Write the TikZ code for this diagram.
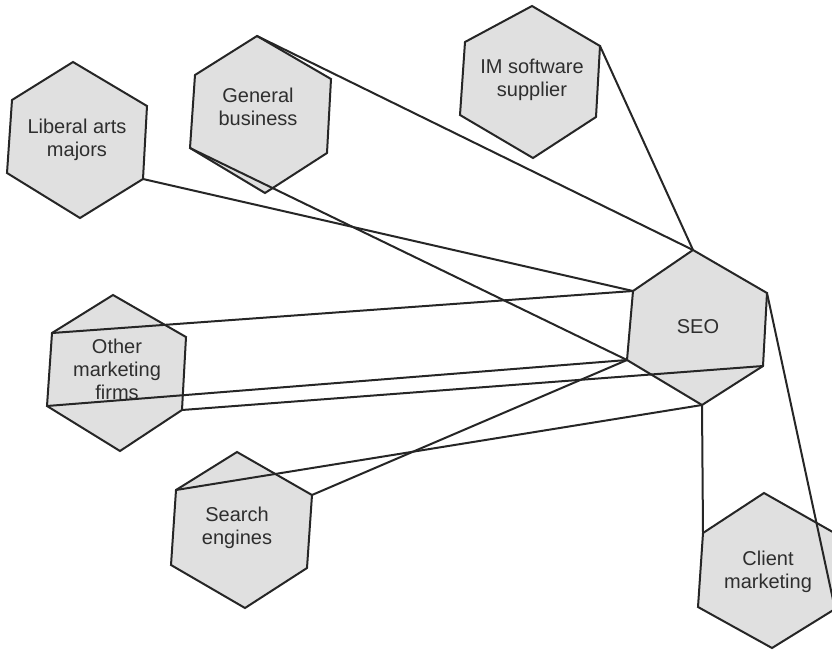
\documentclass[tikz,border=0pt]{standalone}
\usepackage{fontspec}
\setmainfont{Liberation Sans}
\begin{document}
\begin{tikzpicture}[x=1pt,y=-1pt,
  hexbox/.style={draw=black!85,line width=2pt,fill=hexfill,line join=miter},
  hexlabel/.style={align=center,inner sep=0pt,text=black!82,
    font=\fontsize{20}{23}\selectfont},
  link/.style={draw=black!85,line width=2pt,line cap=round}]
\definecolor{hexfill}{RGB}{224,224,224}
\useasboundingbox (0,0) rectangle (832,651);

% hexagon: name, centre of label, six corners (top, upper right, lower right, bottom, lower left, upper left), label
\newcommand\hexnode[9]{%
  \coordinate (#1-t) at #3; \coordinate (#1-ur) at #4; \coordinate (#1-lr) at #5;
  \coordinate (#1-b) at #6; \coordinate (#1-ll) at #7; \coordinate (#1-ul) at #8;
  \path[hexbox] (#1-t) -- (#1-ur) -- (#1-lr) -- (#1-b) -- (#1-ll) -- (#1-ul) -- cycle;
  \node[hexlabel] (#1) at #2 {#9};}

\hexnode{lib}{(77,140)}{(73,62)}{(147,106)}{(143,179)}{(80,218)}{(7,173)}{(12,100)}{Liberal arts\\majors}
\hexnode{gen}{(258,107)}{(257,36)}{(331,79)}{(327,153)}{(265,193)}{(190,148)}{(195,75)}{General\\business}
\hexnode{im}{(532,80)}{(532,6)}{(600,46)}{(596,117)}{(533,158)}{(460,115)}{(465,42)}{IM software\\supplier}
\hexnode{oth}{(117,369)}{(113,295)}{(186,337)}{(182,410)}{(120,451)}{(47,406)}{(52,333)}{Other\\marketing\\firms}
\hexnode{seo}{(698,327)}{(693,250)}{(767,293)}{(763,366)}{(702,405)}{(627,360)}{(633,291)}{SEO}
\hexnode{srch}{(237,528)}{(237,452)}{(312,495)}{(307,568)}{(245,608)}{(171,565)}{(176,490)}{Search\\engines}
\hexnode{cli}{(768,572)}{(764,493)}{(838,535)}{(835,609)}{(772,648)}{(698,607)}{(703,533)}{Client\\marketing}

% connectors between hexagon corners
\draw[link] (gen-t) -- (seo-t);
\draw[link] (im-ur) -- (seo-t);
\draw[link] (lib-lr) -- (seo-ul);
\draw[link] (gen-ll) -- (seo-ll);
\draw[link] (oth-ul) -- (seo-ul);
\draw[link] (oth-ll) -- (seo-ll);
\draw[link] (oth-lr) -- (seo-lr);
\draw[link] (srch-ur) -- (seo-ll);
\draw[link] (srch-ul) -- (seo-b);
\draw[link] (seo-b) -- (cli-ul);
\draw[link] (seo-ur) -- (cli-lr);
\end{tikzpicture}
\end{document}
